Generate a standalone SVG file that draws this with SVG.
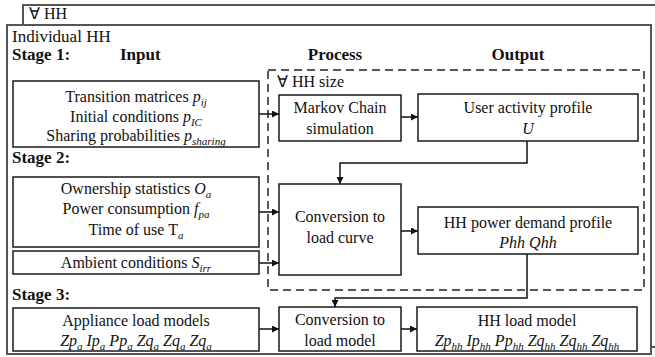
<svg xmlns="http://www.w3.org/2000/svg" width="655" height="357" viewBox="0 0 655 357">
<style>
text{font-family:'Liberation Serif','Times New Roman',serif;font-size:16px;fill:#111}
.h{font-size:17px;font-weight:bold}
.c{text-anchor:middle}
.i{font-style:italic}
.s{font-size:11px;font-style:italic}
.box{fill:#fff;stroke:#1a1a1a;stroke-width:1.5}
.frame{fill:#fff;stroke:#555;stroke-width:2}
.conn{fill:none;stroke:#111;stroke-width:1.5}
</style>
<defs>
<marker id="ah" viewBox="0 0 10 10" refX="10" refY="5" markerWidth="7" markerHeight="7" markerUnits="userSpaceOnUse" orient="auto">
<path d="M0,0 L10,5 L0,10 z" fill="#111"/>
</marker>
</defs>
<g id="frame-all-hh">
<rect class="frame" x="23" y="5" width="640" height="342"/>
<text x="29" y="19">∀ HH</text>
</g>
<g id="frame-individual-hh">
<rect class="frame" x="7" y="25" width="644" height="329"/>
<text x="12" y="42" style="font-size:17px">Individual HH</text>
<text class="h" x="12" y="60">Stage 1:</text>
<text class="h" x="120" y="60">Input</text>
<text class="h c" x="335" y="60">Process</text>
<text class="h c" x="518" y="60">Output</text>
<text class="h" x="12" y="163">Stage 2:</text>
<text class="h" x="12" y="300">Stage 3:</text>
</g>
<g id="hh-size">
<rect x="268" y="70" width="376" height="220" fill="none" stroke="#222" stroke-width="1.5" stroke-dasharray="8,5"/>
<text x="277" y="87">∀ HH size</text>
</g>
<g id="connectors">
<path class="conn" d="M259,114 H279" marker-end="url(#ah)"/>
<path class="conn" d="M401,117 H418" marker-end="url(#ah)"/>
<path class="conn" d="M527,141 V163 H340 V184" marker-end="url(#ah)"/>
<path class="conn" d="M259,212 H279" marker-end="url(#ah)"/>
<path class="conn" d="M259,263 H279" marker-end="url(#ah)"/>
<path class="conn" d="M401,231 H418" marker-end="url(#ah)"/>
<path class="conn" d="M527,254 V298 H335 V307" marker-end="url(#ah)"/>
<path class="conn" d="M259,329 H279" marker-end="url(#ah)"/>
<path class="conn" d="M401,329 H417" marker-end="url(#ah)"/>
</g>
<g id="input-stage1">
<rect class="box" x="13" y="81" width="246" height="66"/>
<text class="c" x="136" y="102">Transition matrices <tspan class="i">p</tspan><tspan class="s" dy="4">ij</tspan></text>
<text class="c" x="136" y="122">Initial conditions <tspan class="i">p</tspan><tspan class="s" dy="4">IC</tspan></text>
<text class="c" x="136" y="141">Sharing probabilities <tspan class="i">p</tspan><tspan class="s" dy="4">sharing</tspan></text>
</g>
<g id="markov">
<rect class="box" x="279" y="95" width="122" height="46"/>
<text class="c" x="340" y="113">Markov Chain</text>
<text class="c" x="340" y="134">simulation</text>
</g>
<g id="user-activity">
<rect class="box" x="418" y="94" width="220" height="47"/>
<text class="c" x="528" y="113">User activity profile</text>
<text class="c i" x="528" y="134">U</text>
</g>
<g id="input-stage2">
<rect class="box" x="13" y="177" width="246" height="70"/>
<text class="c" x="136" y="194">Ownership statistics <tspan class="i">O</tspan><tspan class="s" dy="4">a</tspan></text>
<text class="c" x="136" y="214">Power consumption <tspan class="i">f</tspan><tspan class="s" dy="4">pa</tspan></text>
<text class="c" x="136" y="235">Time of use T<tspan class="s" dy="4">a</tspan></text>
</g>
<g id="ambient">
<rect class="box" x="13" y="251" width="246" height="23"/>
<text class="c" x="136" y="268">Ambient conditions <tspan class="i">S</tspan><tspan class="s" dy="4">irr</tspan></text>
</g>
<g id="conv-curve">
<rect class="box" x="279" y="184" width="122" height="91"/>
<text class="c" x="340" y="222">Conversion to</text>
<text class="c" x="340" y="243">load curve</text>
</g>
<g id="hh-power">
<rect class="box" x="418" y="207" width="220" height="47"/>
<text class="c" x="528" y="228">HH power demand profile</text>
<text class="c i" x="528" y="248">Phh Qhh</text>
</g>
<g id="appliance">
<rect class="box" x="13" y="308" width="246" height="43"/>
<text class="c" x="136" y="326">Appliance load models</text>
<text class="c i" x="136" y="346">Zp<tspan class="s" dy="4">a</tspan><tspan dy="-4"> Ip</tspan><tspan class="s" dy="4">a</tspan><tspan dy="-4"> Pp</tspan><tspan class="s" dy="4">a</tspan><tspan dy="-4"> Zq</tspan><tspan class="s" dy="4">a</tspan><tspan dy="-4"> Zq</tspan><tspan class="s" dy="4">a</tspan><tspan dy="-4"> Zq</tspan><tspan class="s" dy="4">a</tspan></text>
</g>
<g id="conv-model">
<rect class="box" x="279" y="307" width="122" height="44"/>
<text class="c" x="340" y="325">Conversion to</text>
<text class="c" x="340" y="346">load model</text>
</g>
<g id="hh-load">
<rect class="box" x="417" y="307" width="220" height="44"/>
<text class="c" x="527" y="326">HH load model</text>
<text class="c i" x="527" y="346">Zp<tspan class="s" dy="4">hh</tspan><tspan dy="-4"> Ip</tspan><tspan class="s" dy="4">hh</tspan><tspan dy="-4"> Pp</tspan><tspan class="s" dy="4">hh</tspan><tspan dy="-4"> Zq</tspan><tspan class="s" dy="4">hh</tspan><tspan dy="-4"> Zq</tspan><tspan class="s" dy="4">hh</tspan><tspan dy="-4"> Zq</tspan><tspan class="s" dy="4">hh</tspan></text>
</g>
</svg>
